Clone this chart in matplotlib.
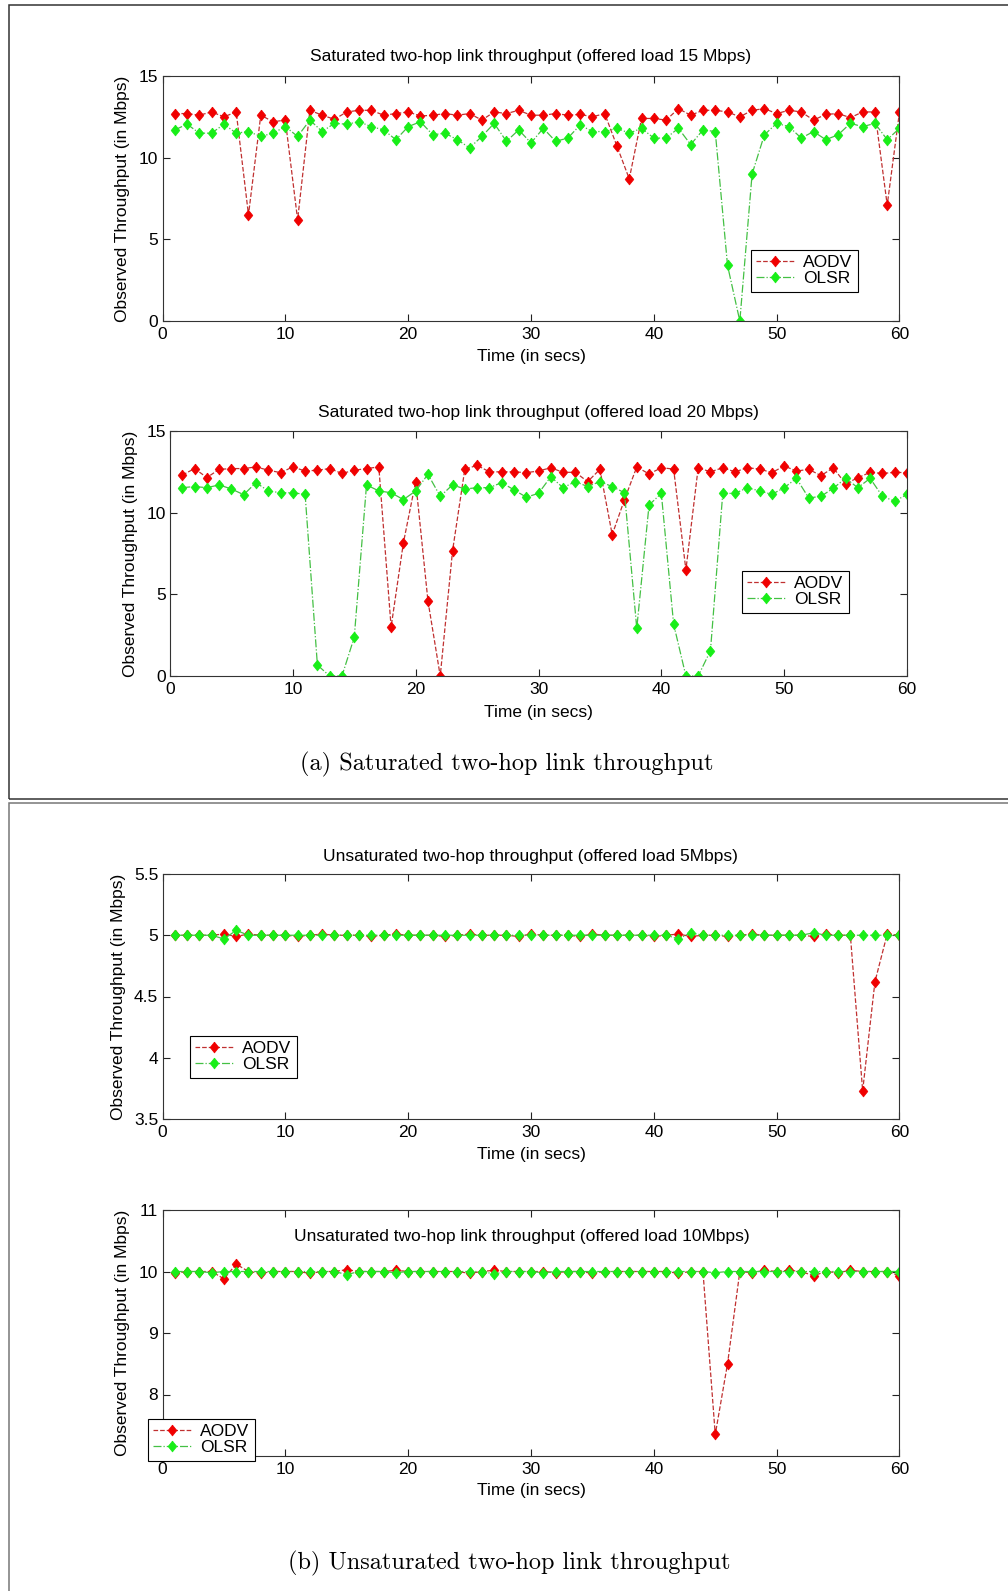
import matplotlib
matplotlib.use("Agg")
import matplotlib.pyplot as plt
from matplotlib.patches import Rectangle

plt.rcParams['font.family'] = ['Liberation Sans', 'DejaVu Sans']

# ---------------- data ----------------
time_s = list(range(1, 61))

aodv_15 = [12.7, 12.7, 12.6, 12.8, 12.5, 12.8, 6.5, 12.6, 12.2, 12.3,
           6.2, 12.9, 12.6, 12.35, 12.8, 12.9, 12.9, 12.6, 12.7, 12.8,
           12.55, 12.6, 12.7, 12.6, 12.7, 12.3, 12.8, 12.7, 12.9, 12.6,
           12.6, 12.7, 12.6, 12.65, 12.5, 12.7, 10.7, 8.7, 12.4, 12.4,
           12.3, 13.0, 12.6, 12.9, 12.9, 12.8, 12.5, 12.9, 13.0, 12.7,
           12.9, 12.8, 12.3, 12.65, 12.7, 12.45, 12.8, 12.8, 7.1, 12.8]
olsr_15 = [11.7, 12.05, 11.5, 11.5, 12.05, 11.5, 11.6, 11.3, 11.5, 11.9,
           11.3, 12.3, 11.6, 12.1, 12.05, 12.2, 11.9, 11.7, 11.1, 11.9,
           12.2, 11.4, 11.5, 11.1, 10.6, 11.3, 12.1, 11.0, 11.7, 10.9,
           11.8, 11.0, 11.2, 12.0, 11.6, 11.6, 11.8, 11.5, 11.8, 11.2,
           11.2, 11.8, 10.8, 11.7, 11.6, 3.4, 0.0, 9.0, 11.4, 12.1,
           11.9, 11.2, 11.6, 11.1, 11.4, 12.1, 11.9, 12.1, 11.1, 11.8]

aodv_20 = [12.3, 12.7, 12.15, 12.65, 12.7, 12.7, 12.8, 12.6, 12.45, 12.8,
           12.55, 12.6, 12.7, 12.4, 12.6, 12.7, 12.8, 3.0, 8.15, 11.9,
           4.6, 0.0, 7.65, 12.65, 12.9, 12.5, 12.5, 12.5, 12.45, 12.55,
           12.75, 12.47, 12.47, 11.9, 12.65, 8.65, 10.8, 12.8, 12.37, 12.75,
           12.67, 6.5, 12.75, 12.5, 12.75, 12.5, 12.75, 12.67, 12.45, 12.86,
           12.55, 12.65, 12.27, 12.75, 11.76, 12.14, 12.47, 12.4, 12.47, 12.45]
olsr_20 = [11.53, 11.6, 11.53, 11.7, 11.45, 11.1, 11.84, 11.33, 11.22, 11.22,
           11.12, 0.67, 0.0, 0.0, 2.37, 11.7, 11.33, 11.22, 10.8, 11.33,
           12.35, 11.0, 11.7, 11.45, 11.53, 11.53, 11.84, 11.4, 10.95, 11.18,
           12.2, 11.53, 11.9, 11.6, 11.9, 11.6, 11.22, 2.92, 10.47, 11.18,
           3.18, 0.0, 0.0, 1.55, 11.18, 11.18, 11.53, 11.33, 11.12, 11.53,
           12.1, 10.9, 11.0, 11.5, 12.1, 11.53, 12.1, 11.0, 10.7, 11.12]

aodv_5 = [5.0, 5.0, 5.0, 5.0, 5.01, 4.99, 5.01, 5.0, 5.0, 5.0,
          4.99, 5.0, 5.01, 5.0, 5.0, 5.0, 4.99, 5.0, 5.01, 5.0,
          5.0, 5.0, 4.99, 5.0, 5.01, 5.0, 5.0, 5.0, 4.99, 5.01,
          5.0, 5.0, 5.0, 4.99, 5.01, 5.0, 5.0, 5.0, 5.0, 4.99,
          5.0, 5.01, 4.99, 5.0, 5.0, 4.99, 5.0, 5.01, 5.0, 5.0,
          5.0, 5.0, 4.99, 5.01, 5.0, 5.0, 3.73, 4.62, 5.01, 5.0]
olsr_5 = [5.0, 5.0, 5.0, 5.0, 4.97, 5.04, 5.0, 5.0, 5.0, 5.0,
          5.0, 5.0, 5.0, 5.0, 5.0, 5.0, 5.0, 5.0, 5.0, 5.0,
          5.0, 5.0, 5.0, 5.0, 5.0, 5.0, 5.0, 5.0, 5.0, 5.0,
          5.0, 5.0, 5.0, 5.0, 5.0, 5.0, 5.0, 5.0, 5.0, 5.0,
          5.0, 4.97, 5.02, 5.0, 5.0, 5.0, 5.0, 5.0, 5.0, 5.0,
          5.0, 5.0, 5.02, 5.0, 5.0, 5.0, 5.0, 5.0, 5.0, 5.0]

aodv_10 = [9.97, 10.0, 10.0, 10.0, 9.88, 10.12, 10.0, 9.97, 10.0, 10.0,
           10.0, 9.97, 10.0, 10.0, 10.03, 10.0, 10.0, 10.0, 10.02, 10.0,
           10.0, 10.0, 10.0, 10.0, 9.97, 10.0, 10.02, 10.0, 10.0, 10.0,
           10.0, 9.98, 10.0, 10.0, 9.97, 10.0, 10.0, 10.0, 10.0, 10.0,
           10.0, 9.97, 10.0, 10.0, 7.35, 8.5, 10.0, 9.98, 10.02, 10.0,
           10.02, 10.0, 9.93, 10.0, 9.98, 10.02, 10.0, 10.0, 10.0, 9.93]
olsr_10 = [10.0, 10.0, 10.0, 9.98, 10.0, 10.0, 10.0, 10.0, 10.0, 10.0,
           10.0, 10.0, 10.0, 10.0, 9.95, 10.0, 10.0, 10.0, 9.98, 10.0,
           10.0, 10.0, 10.0, 10.0, 10.0, 10.0, 9.96, 10.0, 10.0, 10.0,
           9.98, 10.0, 10.0, 10.0, 10.0, 10.0, 10.0, 10.0, 10.0, 10.0,
           10.0, 10.0, 10.0, 10.0, 9.98, 10.0, 10.0, 10.0, 10.0, 10.0,
           10.0, 10.0, 10.0, 10.0, 10.0, 10.0, 10.0, 10.0, 10.0, 10.0]

series_labels = ["AODV", "OLSR"]
x_ticks = [0, 10, 20, 30, 40, 50, 60]
titles = ["Saturated two-hop link throughput (offered load 15 Mbps)",
          "Saturated two-hop link throughput (offered load 20 Mbps)",
          "Unsaturated two-hop throughput (offered load 5Mbps)",
          "Unsaturated two-hop link throughput (offered load 10Mbps)"]
y_label = "Observed Throughput (in Mbps)"
x_label = "Time (in secs)"
captions = ["(a) Saturated two-hop link throughput",
            "(b) Unsaturated two-hop link throughput"]

# ---------------- figure ----------------
W, H = 1008, 1591
FS = 12.5
fig = plt.figure(figsize=(W / 100, H / 100), dpi=100)


def fx(x):
    return x / W


def fy(y):
    return 1 - y / H


def rect(l, t, r, b):
    return [fx(l), fy(b), (r - l) / W, (b - t) / H]


# outer boxes
fig.patches.append(Rectangle((fx(9), fy(799)), fx(1100) - fx(9), fy(5) - fy(799),
                             transform=fig.transFigure, fill=False,
                             edgecolor='#333333', linewidth=1.1))
fig.patches.append(Rectangle((fx(9), fy(1700)), fx(1100) - fx(9), fy(803) - fy(1700),
                             transform=fig.transFigure, fill=False,
                             edgecolor='#777777', linewidth=1.1))

diamond = [(0, 1), (0.8, 0), (0, -1), (-0.8, 0), (0, 1)]
red_m, red_l = '#f00000', '#c03030'
grn_m, grn_l = '#18ee18', '#44c044'

panels = [
    dict(box=(162.5, 76, 899.5, 321), a=aodv_15, o=olsr_15, ylim=(0, 15),
         yt=[0, 5, 10, 15], ytl=['0', '5', '10', '15'],
         title=(531, 57), ylab=123, xlab=357, leg=(751, 250)),
    dict(box=(170, 431, 907, 676), a=aodv_20, o=olsr_20, ylim=(0, 15),
         yt=[0, 5, 10, 15], ytl=['0', '5', '10', '15'],
         title=(538, 412), ylab=130, xlab=713, leg=(742, 571)),
    dict(box=(162.5, 874, 899.5, 1119), a=aodv_5, o=olsr_5, ylim=(3.5, 5.5),
         yt=[3.5, 4, 4.5, 5, 5.5], ytl=['3.5', '4', '4.5', '5', '5.5'],
         title=(530, 856), ylab=118, xlab=1155, leg=(190, 1036)),
    dict(box=(162.5, 1210, 899.5, 1456), a=aodv_10, o=olsr_10, ylim=(7, 11),
         yt=[7, 8, 9, 10, 11], ytl=['7', '8', '9', '10', '11'],
         title=(522, 1237), ylab=123, xlab=1491, leg=(148, 1419)),
]

for i, p in enumerate(panels):
    l, t, r, b = p['box']
    ax = fig.add_axes(rect(l, t, r, b))
    ax.plot(time_s, p['a'], linestyle='--', color=red_l, linewidth=0.9,
            marker=diamond, markersize=7.8, markerfacecolor=red_m,
            markeredgecolor=red_m, markeredgewidth=0.5, label=series_labels[0])
    ax.plot(time_s, p['o'], linestyle='-.', color=grn_l, linewidth=0.9,
            marker=diamond, markersize=7.8, markerfacecolor=grn_m,
            markeredgecolor=grn_m, markeredgewidth=0.5, label=series_labels[1])
    ax.set_xlim(0, 60)
    ax.set_ylim(*p['ylim'])
    ax.set_xticks(x_ticks)
    ax.set_xticklabels([str(v) for v in x_ticks])
    ax.set_yticks(p['yt'])
    ax.set_yticklabels(p['ytl'])
    ax.tick_params(direction='in', top=True, right=True, length=5, width=0.8,
                   labelsize=FS, colors='#222222', labelcolor='black')
    ax.tick_params(axis='x', pad=4.5)
    ax.tick_params(axis='y', pad=3.0)
    for s in ax.spines.values():
        s.set_color('#333333')
        s.set_linewidth(0.8)
    ax.patch.set_facecolor('white')

    tx, ty = p['title']
    fig.text(fx(tx), fy(ty), titles[i], ha='center', va='center', fontsize=FS)
    fig.text(fx(p['ylab']), fy((t + b) / 2), y_label, rotation=90,
             ha='center', va='center', fontsize=FS)
    fig.text(fx((l + r) / 2), fy(p['xlab']), x_label, ha='center', va='center',
             fontsize=FS)

    lx, ly = p['leg']
    leg = ax.legend(loc='upper left', bbox_to_anchor=(fx(lx), fy(ly)),
                    bbox_transform=fig.transFigure, borderaxespad=0,
                    fontsize=FS, numpoints=1, handlelength=2.2,
                    handletextpad=0.5, labelspacing=0.05, borderpad=0.3,
                    fancybox=False, framealpha=1, edgecolor='black')
    leg.get_frame().set_linewidth(0.8)
    leg.set_zorder(10)

fig.text(fx(507), fy(764), captions[0], ha='center', va='center',
         fontsize=17.5, family='cmr10')
fig.text(fx(509), fy(1563), captions[1], ha='center', va='center',
         fontsize=17.5, family='cmr10')

fig.savefig("out.png", dpi=100, facecolor='white')
